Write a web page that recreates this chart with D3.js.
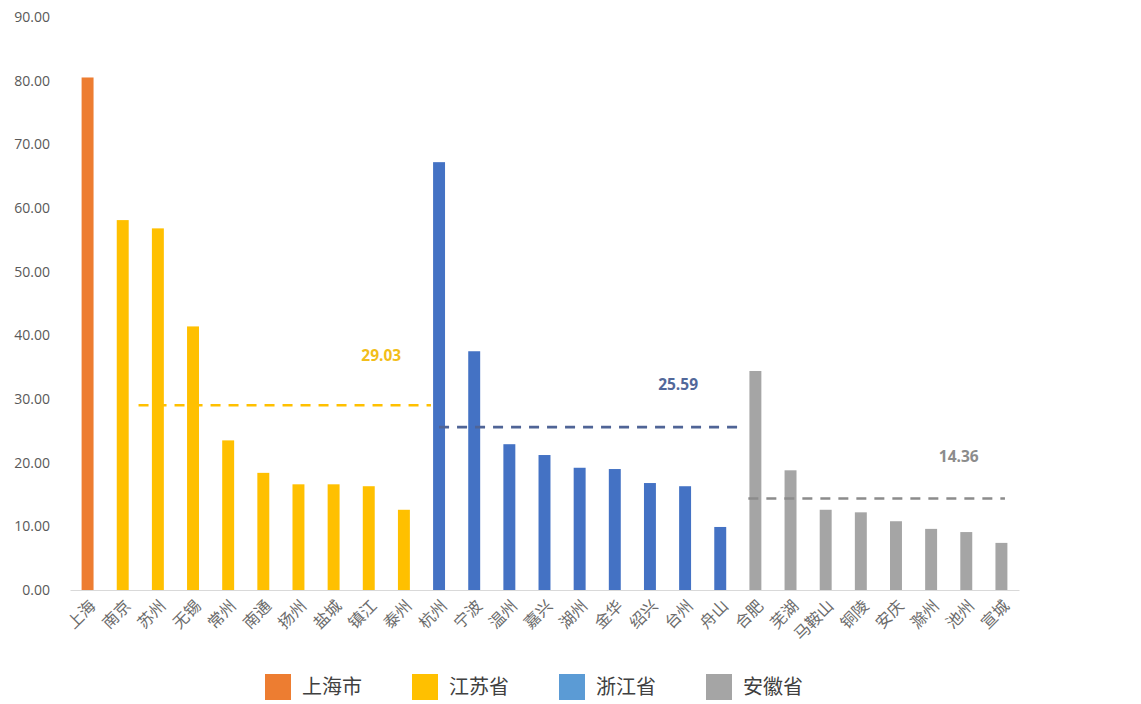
<!DOCTYPE html>
<html>
<head>
<meta charset="utf-8">
<script src="https://cdn.jsdelivr.net/npm/d3@7"></script>
<style>
  html, body { margin: 0; padding: 0; background: #fff; }
  svg { display: block; }
</style>
</head>
<body>
<svg id="chart" width="1141" height="704"></svg>
<script>
// Cities, grouped by province
const cities = ["上海","南京","苏州","无锡","常州","南通","扬州","盐城","镇江","泰州",
  "杭州","宁波","温州","嘉兴","湖州","金华","绍兴","台州","舟山",
  "合肥","芜湖","马鞍山","铜陵","安庆","滁州","池州","宣城"];
const values = [80.5, 58.1, 56.8, 41.4, 23.5, 18.4, 16.6, 16.6, 16.3, 12.6,
  67.2, 37.5, 22.9, 21.2, 19.2, 19.0, 16.8, 16.3, 9.9,
  34.4, 18.8, 12.6, 12.2, 10.8, 9.6, 9.1, 7.4];
const provinceOf = ["上海市","江苏省","江苏省","江苏省","江苏省","江苏省","江苏省","江苏省","江苏省","江苏省",
  "浙江省","浙江省","浙江省","浙江省","浙江省","浙江省","浙江省","浙江省","浙江省",
  "安徽省","安徽省","安徽省","安徽省","安徽省","安徽省","安徽省","安徽省"];
const provinces = ["上海市","江苏省","浙江省","安徽省"];
const yTicks = [0, 10, 20, 30, 40, 50, 60, 70, 80, 90];

// Provincial averages (dashed lines)
const avgProvinces = ["江苏省","浙江省","安徽省"];
const avgValues = [29.03, 25.59, 14.36];
const avgFrom = ["南京","杭州","合肥"];
const avgTo = ["杭州","合肥","宣城"];

const barColor = { "上海市": "#ED7D31", "江苏省": "#FFC000", "浙江省": "#4472C4", "安徽省": "#A5A5A5" };
const legendColor = { "上海市": "#ED7D31", "江苏省": "#FFC000", "浙江省": "#5B9BD5", "安徽省": "#A5A5A5" };
const avgColor = { "江苏省": "#FFC000", "浙江省": "#4F6496", "安徽省": "#8C8C8C" };
const avgLabelColor = { "江苏省": "#F2BE1A", "浙江省": "#52689A", "安徽省": "#8C8C8C" };

const svg = d3.select("#chart");
const margin = { left: 70, right: 122, top: 17, bottom: 114 };
const W = 1141, H = 704;
const plotR = W - margin.right, plotB = H - margin.bottom;

const x = d3.scaleBand().domain(cities).range([margin.left, plotR]).paddingInner(0.66).paddingOuter(0.33);
const y = d3.scaleLinear().domain([0, 90]).range([plotB, margin.top]);

const font = "'Noto Sans CJK SC', 'Noto Sans', sans-serif";

// Y axis labels (no axis line, no gridlines)
const yAxis = d3.axisLeft(y).tickValues(yTicks).tickFormat(d3.format(".2f")).tickSize(0).tickPadding(0);
const yg = svg.append("g").attr("transform", `translate(50,0)`).call(yAxis);
yg.select(".domain").remove();
yg.selectAll("text").attr("font-family", "'Open Sans', 'Noto Sans', sans-serif")
  .attr("font-size", 14).attr("fill", "#595959");

// Bars
svg.append("g").selectAll("rect").data(cities).join("rect")
  .attr("x", d => x(d))
  .attr("width", x.bandwidth())
  .attr("y", (d, i) => y(values[i]))
  .attr("height", (d, i) => plotB - y(values[i]))
  .attr("fill", (d, i) => barColor[provinceOf[i]]);

// X axis baseline and rotated labels
const xAxis = d3.axisBottom(x).tickSize(0).tickPadding(0);
const xg = svg.append("g").attr("transform", `translate(0,${plotB})`).call(xAxis);
xg.select(".domain").attr("stroke", "#D9D9D9").attr("stroke-width", 1.2);
xg.selectAll(".tick text")
  .attr("font-family", font).attr("font-size", 16).attr("fill", "#6b6b6b")
  .attr("text-anchor", "end")
  .attr("dy", null).attr("y", 0)
  .attr("transform", "translate(9,17) rotate(-45)");

// Average lines with value labels
const step = x.step();
const fromOff = [0.45, 0, -0.2];
const toOff = [-0.23, -0.5, 0.1];
const labelLift = [44, 37, 37];
const labelPos = [0.17, 0.2, 0.18];
avgProvinces.forEach((p, k) => {
  const x0 = x(avgFrom[k]) + x.bandwidth() / 2 + fromOff[k] * step;
  const x1 = x(avgTo[k]) + x.bandwidth() / 2 + toOff[k] * step;
  const yy = y(avgValues[k]);
  svg.append("line")
    .attr("x1", x0).attr("x2", x1).attr("y1", yy).attr("y2", yy)
    .attr("stroke", avgColor[p]).attr("stroke-width", 2.6)
    .attr("stroke-dasharray", "10,8");
  svg.append("text")
    .attr("x", x1 - labelPos[k] * (x1 - x0)).attr("y", yy - labelLift[k])
    .attr("text-anchor", "middle")
    .attr("font-family", "'Open Sans', 'Noto Sans', sans-serif")
    .attr("font-size", 15.5).attr("font-weight", 700)
    .attr("fill", avgLabelColor[p])
    .text(avgValues[k].toFixed(2));
});

// Legend
const legendX = [265, 412, 559, 706];
const lg = svg.append("g");
provinces.forEach((p, i) => {
  lg.append("rect").attr("x", legendX[i]).attr("y", 674).attr("width", 26).attr("height", 26)
    .attr("fill", legendColor[p]);
  lg.append("text").attr("x", legendX[i] + 37).attr("y", 694)
    .attr("font-family", font).attr("font-size", 20).attr("fill", "#404040")
    .text(p);
});
</script>
</body>
</html>
